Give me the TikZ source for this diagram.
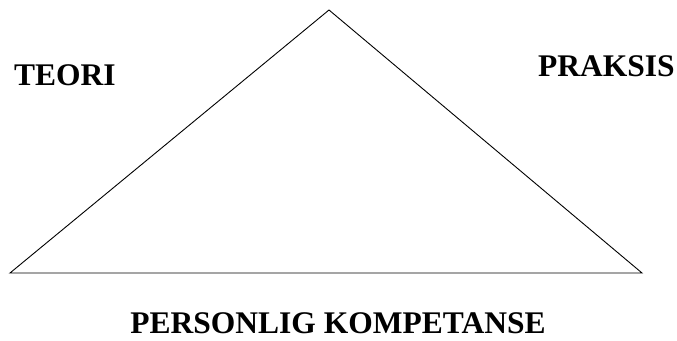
\documentclass[tikz,border=0pt]{standalone}
\usepackage{fontspec}
\setmainfont{Liberation Serif}
\usetikzlibrary{positioning}

\begin{document}
\begin{tikzpicture}[
  x=1pt, y=1pt,
  lbl/.style = {font=\fontsize{31.5}{36}\selectfont\bfseries, inner sep=0pt},
  edge/.style = {draw=black, line width=0.9pt}
]
\useasboundingbox (0,0) rectangle (677,340);

% ── TRIANGLE ────────────────────────────────────────────
\coordinate (top)   at (329,330);
\coordinate (left)  at (10,67);
\coordinate (right) at (642,67);
\draw[edge] (left) -- (top) -- (right) -- cycle;

% ── LABELS ──────────────────────────────────────────────
\node[lbl, anchor=base west] (teori)   at (14,254)  {TEORI};
\node[lbl, anchor=base west] (praksis) at (538,263) {PRAKSIS};
\node[lbl, anchor=base, text depth=0pt] (komp) at (338,7) {PERSONLIG KOMPETANSE};

\end{tikzpicture}
\end{document}
